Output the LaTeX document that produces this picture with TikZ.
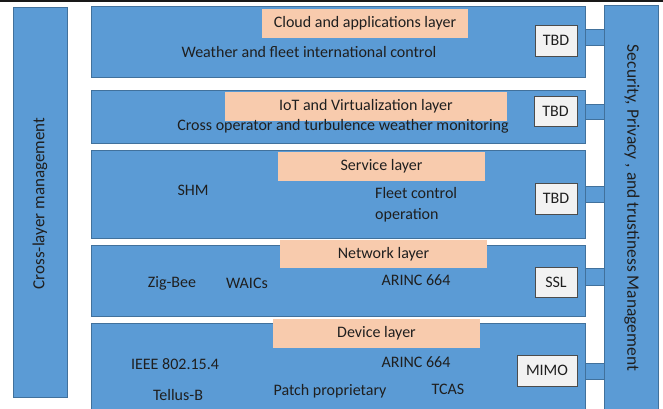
\documentclass[tikz,border=0pt]{standalone}
\usepackage{fontspec}
\setmainfont{Carlito}
\definecolor{lblue}{HTML}{5B9BD5}
\definecolor{dblue}{HTML}{41719C}
\definecolor{peach}{HTML}{F8CBAD}
\definecolor{tbdfill}{HTML}{F2F2F2}
\definecolor{txt}{HTML}{1F1F1F}
\begin{document}
\begin{tikzpicture}[x=1pt,y=-1pt,
  layerbox/.style={draw=dblue,fill=lblue,line width=0.8pt},
  labelbox/.style={fill=peach,inner sep=0pt,text=txt,font=\fontsize{16}{20}\selectfont},
  tbdbox/.style={draw=txt!80,fill=tbdfill,line width=0.8pt,inner sep=0pt,text=txt,font=\fontsize{16}{20}\selectfont},
  conn/.style={draw=dblue,fill=lblue,line width=0.8pt},
  body/.style={text=txt,font=\fontsize{16}{21}\selectfont,inner sep=0pt},
  sidetext/.style={text=txt,inner sep=0pt}]
\useasboundingbox (0,0) rectangle (663,408);
\fill[white] (0,0) rectangle (663,408);
\fill[black!90] (0,0) rectangle (663,2);
% side boxes
\draw[layerbox] (13,7) rectangle (67,397);
\node[sidetext,font=\fontsize{17}{20}\selectfont,rotate=90] (cross) at (40,203.5) {Cross-layer management};
\draw[layerbox] (604,5) rectangle (658,412);
\node[sidetext,font=\fontsize{17.5}{20}\selectfont,rotate=-90] (sec) at (632,208) {Security, Privacy , and trustiness Management};
% connectors
\draw[conn] (585,29) rectangle (604,45);
\draw[conn] (585,104) rectangle (604,119);
\draw[conn] (585,186) rectangle (604,202);
\draw[conn] (585,268) rectangle (604,285);
\draw[conn] (585,363) rectangle (604,379);
% layers
\draw[layerbox] (91,6) rectangle (585,77);
\draw[layerbox] (91,90) rectangle (585,143);
\draw[layerbox] (91,150) rectangle (585,238);
\draw[layerbox] (91,245) rectangle (585,316);
\draw[layerbox] (91,323) rectangle (585,412);
% labels
\node[labelbox,minimum width=206pt,minimum height=29pt] (l1) at (365,23.5) {Cloud and applications layer};
\node[labelbox,minimum width=282pt,minimum height=29pt] (l2) at (366,106.5) {IoT and Virtualization layer};
\node[labelbox,minimum width=207pt,minimum height=29pt] (l3) at (381.5,166.5) {Service layer};
\node[labelbox,minimum width=207pt,minimum height=28pt] (l4) at (383.5,254) {Network layer};
\node[labelbox,minimum width=207pt,minimum height=29pt] (l5) at (376.5,333.5) {Device layer};
% tbd boxes
\node[tbdbox,minimum width=42pt,minimum height=31pt] (t1) at (556,40.5) {TBD};
\node[tbdbox,minimum width=43pt,minimum height=30pt] (t2) at (555.5,111) {TBD};
\node[tbdbox,minimum width=42pt,minimum height=31pt] (t3) at (556,198.5) {TBD};
\node[tbdbox,minimum width=42pt,minimum height=30pt] (t4) at (556,282) {SSL};
\node[tbdbox,minimum width=60pt,minimum height=31pt] (t5) at (547,370.5) {MIMO};
% texts
\node[body] (w1) at (309,52) {Weather and fleet international control};
\node[body] (w2) at (343,126) {Cross operator and turbulence weather monitoring};
\node[body] (shm) at (193,190) {SHM};
\node[body,align=left,anchor=west] (fc) at (375,205) {Fleet control\\operation};
\node[body] (zb) at (172,283) {Zig-Bee};
\node[body] (wa) at (247,283) {WAICs};
\node[body] (ar1) at (416,280) {ARINC 664};
\node[body] (ieee) at (175,364) {IEEE 802.15.4};
\node[body] (ar2) at (416,362) {ARINC 664};
\node[body] (tel) at (178,395) {Tellus-B};
\node[body] (pp) at (330,391) {Patch proprietary};
\node[body] (tcas) at (448,389) {TCAS};
\end{tikzpicture}
\end{document}
